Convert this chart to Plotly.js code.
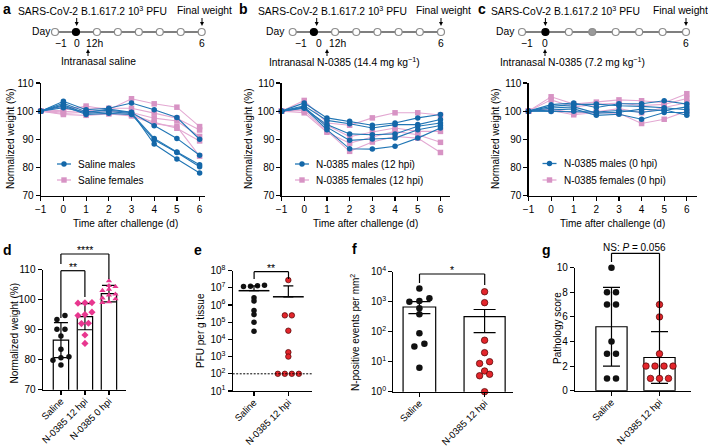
<!DOCTYPE html>
<html><head><meta charset="utf-8">
<script src="https://cdn.plot.ly/plotly-3.0.1.min.js"></script>
<style>html,body{margin:0;padding:0;background:#fff}#chart{width:708px;height:447px}</style>
</head><body><div id="chart"></div>
<script>
// ---------------- DATA ----------------
const days = [-1, 0, 1, 2, 3, 4, 5, 6];

const aMales = [
  [100, 103.5, 100.5, 101.0, 102.9, 100.5, 97.7, 90.0],
  [100, 102.8, 99.8, 100.3, 99.5, 94.8, 90.3, 84.3],
  [100, 102.2, 99.2, 99.8, 99.2, 90.3, 85.5, 80.9],
  [100, 101.8, 98.8, 99.2, 98.8, 89.8, 85.3, 80.2],
  [100, 101.2, 99.5, 100.7, 99.6, 88.3, 83.0, 78.0]
];
const aFemales = [
  [100, 100.3, 101.8, 100.5, 104.4, 102.6, 101.4, 94.5],
  [100, 101.5, 101.0, 101.0, 101.0, 99.3, 97.5, 93.3],
  [100, 99.8, 100.2, 100.0, 99.5, 97.5, 96.5, 91.0],
  [100, 99.2, 99.6, 99.3, 98.8, 96.0, 93.9, 89.4],
  [100, 98.8, 98.5, 99.0, 98.3, 95.5, 94.5, 84.0]
];
const bMales = [
  [100, 102.9, 97.6, 96.4, 95.0, 95.8, 97.6, 98.8],
  [100, 101.9, 96.7, 95.5, 94.0, 95.2, 95.2, 97.0],
  [100, 101.0, 95.2, 91.9, 91.6, 91.9, 94.6, 95.8],
  [100, 101.5, 94.3, 89.6, 90.1, 90.4, 93.4, 94.9],
  [100, 101.2, 93.4, 86.6, 86.5, 87.5, 90.4, 94.0]
];
const bFemales = [
  [100, 103.8, 95.8, 95.0, 97.6, 99.4, 99.4, 98.6],
  [100, 100.5, 95.0, 90.9, 92.6, 94.0, 92.8, 92.8],
  [100, 99.4, 92.5, 88.6, 90.8, 92.8, 91.6, 88.9],
  [100, 100.2, 93.0, 85.7, 89.0, 91.0, 90.4, 85.3]
];
const cMales = [
  [100, 102.3, 102.9, 101.3, 102.6, 102.6, 103.7, 102.5],
  [100, 101.7, 102.3, 102.5, 101.9, 101.7, 101.2, 100.5],
  [100, 101.1, 101.5, 99.3, 99.6, 100.7, 100.2, 101.5],
  [100, 100.5, 100.8, 98.5, 98.9, 97.1, 99.5, 99.5],
  [100, 99.9, 100.0, 99.7, 100.2, 99.6, 100.5, 98.5]
];
const cFemales = [
  [100, 105.1, 102.5, 103.2, 104.0, 103.7, 103.0, 106.2],
  [100, 104.0, 101.5, 102.4, 102.9, 102.0, 102.4, 104.5],
  [100, 100.8, 99.3, 99.8, 100.9, 99.4, 101.3, 103.0],
  [100, 100.2, 98.7, 99.5, 99.2, 95.6, 97.1, 100.0]
];

const dCats = ['Saline', 'N-0385 12 hpi', 'N-0385 0 hpi'];
const dMean = [86.5, 94.3, 102.0];
const dSD = [5.85, 4.35, 2.75];
const dSaline = [94.7, 93.4, 90.1, 90.1, 87.9, 83.5, 81.0, 80.6, 79.8, 78.2];
const d12hpi = [99.0, 98.9, 98.8, 95.8, 95.0, 94.7, 92.1, 92.0, 88.2, 85.4];
const d0hpi = [106.2, 104.6, 104.3, 103.4, 103.0, 101.8, 101.5, 100.5, 100.2, 99.2, 99.0];

const eCats = ['Saline', 'N-0385 12 hpi'];
const eSaline = [1.4e7, 1.3e7, 1.25e7, 1.2e7, 2.6e6, 1.7e6, 4.8e5, 2.8e5, 1.0e5, 3.0e4];
const eN0385 = [2.8e7, 2.5e5, 2.5e5, 3.2e4, 1.8e3, 1.0e3, 100, 100, 100, 100];
const eMean = [6.8e6, 3.0e6];
const eErrHi = [1.3e7, 1.3e7];
const eLOD = 100;
const eTicks = [1e1, 1e2, 1e3, 1e4, 1e5, 1e6, 1e7, 1e8];
const eTickText = ['10<sup>1</sup>', '10<sup>2</sup>', '10<sup>3</sup>', '10<sup>4</sup>', '10<sup>5</sup>', '10<sup>6</sup>', '10<sup>7</sup>', '10<sup>8</sup>'];

const fCats = ['Saline', 'N-0385 12 hpi'];
const fSaline = [2750, 1300, 1050, 1000, 600, 380, 89, 40, 32, 6.3];
const fN0385 = [2150, 930, 52, 20, 10, 8.7, 4.9, 3.8, 3.4, 1.0];
const fMean = [665, 316];
const fErrHi = [1000, 550];
const fErrLo = [400, 93];
const fTicks = [1, 10, 100, 1000, 10000];
const fTickText = ['10<sup>0</sup>', '10<sup>1</sup>', '10<sup>2</sup>', '10<sup>3</sup>', '10<sup>4</sup>'];

const gCats = ['Saline', 'N-0385 12 hpi'];
const gSaline = [10, 8, 8, 7, 7, 4, 3, 3, 1, 1];
const gN0385 = [7, 6, 3, 2, 2, 2, 2, 1, 1, 1];
const gMean = [5.2, 2.7];
const gErrHi = [8.4, 4.8];
const gErrLo = [2.0, 0.6];

const tlDays = [-1, 0, 1, 2, 3, 4, 5, 6];
const infectionDay = 0;
const cGrayDay = 2;

// ---------------- STYLE / HELPERS ----------------
const W = 708, H = 447;
const FONT = 'Liberation Sans, Arial, Helvetica, sans-serif';
const BLUE = '#2176b5', BLUE_M = '#1467a8', PINK = '#e3a8d2', PINK_M = '#d793c4';
const RED = '#e3262c', MAG = '#e8378f';
const PX = x => x / W, PY = y => 1 - y / H;

const base = {showline: true, linecolor: '#000', linewidth: 1.2, ticks: 'outside', ticklen: 4,
  tickwidth: 1.2, tickcolor: '#000', showgrid: false, zeroline: false, fixedrange: true,
  tickfont: {family: FONT, size: 10, color: '#000'}};
const catX = {tickangle: -45, ticklabelstandoff: -3, tickfont: {family: FONT, size: 9.5, color: '#000'}};
function xa(x0, x1, range, anchor, extra) {
  return Object.assign({}, base, {domain: [PX(x0), PX(x1)], range, anchor}, extra || {});
}
function ya(top, bottom, range, anchor, extra) {
  return Object.assign({}, base, {domain: [PY(bottom), PY(top)], range, anchor}, extra || {});
}

function lineGroup(rows, xaN, yaN, lc, mc, symbol) {
  const x = [], y = [];
  rows.forEach(r => { r.forEach((v, i) => { x.push(days[i]); y.push(v); }); x.push(null); y.push(null); });
  return {type: 'scatter', mode: 'lines+markers', x, y, xaxis: xaN, yaxis: yaN,
    line: {color: lc, width: 1.1}, marker: {color: mc, size: 5.5, symbol},
    connectgaps: false, cliponaxis: false, hoverinfo: 'skip'};
}

function swarm(vals, toPx, spacingPx, pxPerCat, thresh) {
  const order = vals.map((v, i) => i).sort((a, b) => toPx(vals[a]) - toPx(vals[b]));
  const off = new Array(vals.length).fill(0);
  let bin = [];
  const flush = () => { bin.forEach((k, j) => { off[k] = (j - (bin.length - 1) / 2) * spacingPx / pxPerCat; }); bin = []; };
  order.forEach(k => {
    if (bin.length && Math.abs(toPx(vals[k]) - toPx(vals[bin[0]])) > thresh) flush();
    bin.push(k);
  });
  flush();
  return off;
}
function pts(vals, idx, xaN, yaN, toPx, spacing, pxPerCat, thresh, marker) {
  const off = swarm(vals, toPx, spacing, pxPerCat, thresh);
  return {type: 'scatter', mode: 'markers', x: vals.map((v, i) => idx + off[i]), y: vals,
    xaxis: xaN, yaxis: yaN, marker, cliponaxis: false, hoverinfo: 'skip'};
}

// ---------------- TRACES ----------------
const traces = [];
traces.push(lineGroup(aFemales, 'x', 'y', PINK, PINK_M, 'square'));
traces.push(lineGroup(aMales, 'x', 'y', BLUE, BLUE_M, 'circle'));
traces.push(lineGroup(bFemales, 'x2', 'y2', PINK, PINK_M, 'square'));
traces.push(lineGroup(bMales, 'x2', 'y2', BLUE, BLUE_M, 'circle'));
traces.push(lineGroup(cFemales, 'x3', 'y3', PINK, PINK_M, 'square'));
traces.push(lineGroup(cMales, 'x3', 'y3', BLUE, BLUE_M, 'circle'));

// d
traces.push({type: 'bar', x: dCats.map((c, i) => i), y: dMean, width: 0.64, xaxis: 'x4', yaxis: 'y4',
  marker: {color: '#fff', line: {color: '#000', width: 1.2}},
  error_y: {type: 'data', array: dSD, visible: true, color: '#000', thickness: 1.2, width: 7}, hoverinfo: 'skip'});
const dPx = v => v * 3.0;
traces.push(pts(dSaline, 0, 'x4', 'y4', dPx, 8, 24, 4, {color: '#111', size: 5.5}));
traces.push(pts(d12hpi, 1, 'x4', 'y4', dPx, 7, 24, 4, {color: MAG, size: 5.5, symbol: 'diamond'}));
traces.push(pts(d0hpi, 2, 'x4', 'y4', dPx, 6.5, 24, 4, {color: MAG, size: 5.5, symbol: 'triangle-up'}));

// e
const ePx = v => Math.log10(v) * 17.2;
traces.push(pts(eSaline, 0, 'x5', 'y5', ePx, 7, 34.35, 3, {color: '#111', size: 5.5}));
traces.push(pts(eN0385, 1, 'x5', 'y5', ePx, 7, 34.35, 3, {color: RED, size: 5.5, line: {color: '#4a0000', width: 0.7}}));
traces.push({type: 'scatter', mode: 'markers', x: eCats.map((c, i) => i), y: eMean, xaxis: 'x5', yaxis: 'y5',
  marker: {symbol: 'line-ew', size: 22, line: {color: '#000', width: 1.5}},
  error_y: {type: 'data', symmetric: false, array: eErrHi.map((h, i) => h - eMean[i]), arrayminus: eMean.map(() => 0),
    color: '#000', thickness: 1.2, width: 5}, cliponaxis: false, hoverinfo: 'skip'});

// f
traces.push({type: 'bar', x: fCats.map((c, i) => i), y: fMean, width: [0.5, 0.63], xaxis: 'x6', yaxis: 'y6',
  marker: {color: '#fff', line: {color: '#000', width: 1.2}},
  error_y: {type: 'data', symmetric: false, array: fErrHi.map((h, i) => h - fMean[i]),
    arrayminus: fErrLo.map((l, i) => fMean[i] - l), color: '#000', thickness: 1.2, width: 11}, hoverinfo: 'skip'});
const fPx = v => Math.log10(v) * 30;
traces.push(pts(fSaline, 0, 'x6', 'y6', fPx, 10, 65.2, 4, {color: '#111', size: 6.5}));
traces.push(pts(fN0385, 1, 'x6', 'y6', fPx, 10, 65.2, 4, {color: RED, size: 6.5, line: {color: '#4a0000', width: 0.7}}));

// g
traces.push({type: 'bar', x: gCats.map((c, i) => i), y: gMean, width: 0.65, xaxis: 'x7', yaxis: 'y7',
  marker: {color: '#fff', line: {color: '#000', width: 1.2}},
  error_y: {type: 'data', symmetric: false, array: gErrHi.map((h, i) => h - gMean[i]),
    arrayminus: gErrLo.map((l, i) => gMean[i] - l), color: '#000', thickness: 1.2, width: 8.5}, hoverinfo: 'skip'});
const gPx = v => v * 12.3;
traces.push(pts(gSaline, 0, 'x7', 'y7', gPx, 9, 48, 3, {color: '#111', size: 6.5}));
traces.push(pts(gN0385, 1, 'x7', 'y7', gPx, 9, 48, 3, {color: RED, size: 6.5, line: {color: '#4a0000', width: 0.7}}));

// timelines
function timeline(xaN, yaN, grayDay) {
  const fills = tlDays.map(d => d === infectionDay ? '#000' : (d === grayDay ? '#9a9a9a' : '#fff'));
  const outl = tlDays.map(d => d === infectionDay ? '#000' : '#8c8c8c');
  return [
    {type: 'scatter', mode: 'lines', x: tlDays, y: tlDays.map(() => 0), xaxis: xaN, yaxis: yaN,
      line: {color: '#000', width: 1.2}, cliponaxis: false, hoverinfo: 'skip'},
    {type: 'scatter', mode: 'markers', x: tlDays, y: tlDays.map(() => 0), xaxis: xaN, yaxis: yaN,
      marker: {size: 7, color: fills, line: {color: outl, width: 1.2}}, cliponaxis: false, hoverinfo: 'skip'}
  ];
}
traces.push(...timeline('x8', 'y8', null));
traces.push(...timeline('x9', 'y9', null));
traces.push(...timeline('x10', 'y10', cGrayDay));

// ---------------- ANNOTATIONS / SHAPES ----------------
const ann = [];
const shapes = [];
function T(text, x, y, o) {
  ann.push(Object.assign({text, x: PX(x), y: PY(y), xref: 'paper', yref: 'paper', showarrow: false,
    xanchor: 'center', yanchor: 'middle', font: {family: FONT, size: 10, color: '#000'}}, o || {}));
}
function L(x0, y0, x1, y1, color, w, extra) {
  shapes.push(Object.assign({type: 'line', xref: 'paper', yref: 'paper', x0: PX(x0), y0: PY(y0), x1: PX(x1), y1: PY(y1),
    line: {color: color || '#000', width: w || 1.2}}, extra || {}));
}
// small arrow: head at (x, yHead); dy>0 means arrow points down
function ARR(x, yHead, dy) {
  const s = dy > 0 ? 1 : -1;
  L(x, yHead - dy, x, yHead - s * 2.5, '#000', 1);
  shapes.push({type: 'path', xref: 'paper', yref: 'paper',
    path: `M ${PX(x)},${PY(yHead)} L ${PX(x - 2)},${PY(yHead - s * 4)} L ${PX(x + 2)},${PY(yHead - s * 4)} Z`,
    fillcolor: '#000', line: {width: 0}});
}
const big = {font: {family: FONT, size: 14, color: '#000'}, xanchor: 'left'};
T('<b>a</b>', 1, 9, big); T('<b>b</b>', 237, 9, big); T('<b>c</b>', 476, 9, big);
T('<b>d</b>', 1, 250, big); T('<b>e</b>', 192, 250, big); T('<b>f</b>', 350, 249, big); T('<b>g</b>', 540, 250, big);

// timeline texts
const virus = 'SARS-CoV-2 B.1.617.2 10<sup>3</sup> PFU';
const fT = {font: {family: FONT, size: 10.3, color: '#000'}};
const fTL = {font: {family: FONT, size: 10.3, color: '#000'}, xanchor: 'left'};
[[16, 175, 53, 61, 77, 94, 202, 88, 99, 'Intranasal saline', 76.7, 202],
 [256, 414, 287, 301, 318.5, 337, 441, 327, 344, 'Intranasal N-0385 (14.4 mg kg<sup>−1</sup>)', 316.7, 441],
 [489, 651, 517, 527, 545, null, 686, 545, 572, 'Intranasal N-0385 (7.2 mg kg<sup>−1</sup>)', 545.4, 686]
].forEach(p => {
  T(virus, p[0], 10, fTL);
  T('Final weight', p[1], 10, fTL);
  T('Day', p[2], 31, Object.assign({}, fT, {xanchor: 'right'}));
  T('−1', p[3], 43, fT); T('0', p[4], 43, fT);
  if (p[5] !== null) T('12h', p[5], 43, fT);
  T('6', p[6], 43, fT);
  ARR(p[7], 49, -7);
  T(p[9], p[8], 62, fT);
  ARR(p[10], 26, 8);
  ARR(p[11], 26, 8);
});

// axis titles
const tt = {textangle: -90};
T('Normalized weight (%)', 10, 139, tt); T('Normalized weight (%)', 248, 139, tt); T('Normalized weight (%)', 495, 139, tt);
T('Time after challenge (d)', 125, 223); T('Time after challenge (d)', 366, 223); T('Time after challenge (d)', 612, 223);
T('Normalized weight (%)', 13.5, 333, tt);
T('PFU per g tissue', 200, 331, tt);
T('N-positive events per mm<sup>2</sup>', 355, 332, tt);
T('Pathology score', 557, 328, tt);

// legends
function legendItem(x0, y, label, isMale) {
  L(x0, y, x0 + 14, y, isMale ? BLUE : PINK, 1.3);
  const cx = x0 + 7, r = 2.7;
  shapes.push({type: isMale ? 'circle' : 'rect', xref: 'paper', yref: 'paper',
    x0: PX(cx - r), x1: PX(cx + r), y0: PY(y + r), y1: PY(y - r),
    fillcolor: isMale ? BLUE_M : PINK_M, line: {width: 0}});
  T(label, x0 + 19, y, {xanchor: 'left'});
}
legendItem(57, 164, 'Saline males', true); legendItem(57, 180, 'Saline females', false);
legendItem(295, 164, 'N-0385 males (12 hpi)', true); legendItem(295, 180, 'N-0385 females (12 hpi)', false);
legendItem(542.5, 163.5, 'N-0385 males (0 hpi)', true); legendItem(542.5, 180, 'N-0385 females (0 hpi)', false);

// significance brackets
function bracket(x1, x2, yTop, yL, yR) { L(x1, yTop, x2, yTop); L(x1, yTop, x1, yL); L(x2, yTop, x2, yR); }
const sig = {font: {family: FONT, size: 10.5, color: '#000'}};
bracket(60.9, 84.9, 270.7, 318, 297); T('**', 72.9, 266.5, sig);
bracket(60.9, 108.9, 254, 264, 279); T('****', 84.9, 250, sig);
bracket(254.1, 288.5, 271.7, 279, 279); T('**', 271.3, 267.5, sig);
bracket(419.5, 484.7, 274, 283, 285); T('*', 452, 270, sig);
bracket(611.5, 659.5, 253.3, 262, 331); T('NS: <i>P</i> = 0.056', 634.5, 247.5);

// LOD dashed line in e
shapes.push({type: 'line', xref: 'x5 domain', yref: 'y5', x0: 0, x1: 1, y0: eLOD, y1: eLOD,
  line: {color: '#000', width: 1, dash: '2px,1.5px'}});

// ---------------- LAYOUT ----------------
const yW = {tickvals: [70, 80, 90, 100, 110]};
const hid = {visible: false, fixedrange: true};
const layout = {
  width: W, height: H, margin: {l: 0, r: 0, t: 0, b: 0}, showlegend: false,
  paper_bgcolor: '#fff', plot_bgcolor: 'rgba(0,0,0,0)', font: {family: FONT, size: 10, color: '#000'},
  bargap: 0,
  xaxis: xa(40.7, 204.6, [-1, 6.22], 'y', {tickvals: days}),
  yaxis: ya(83, 195.5, [70, 110], 'x', yW),
  xaxis2: xa(281.5, 450, [-1, 6.42], 'y2', {tickvals: days}),
  yaxis2: ya(83, 195.5, [70, 110], 'x2', yW),
  xaxis3: xa(528.5, 697, [-1, 6.45], 'y3', {tickvals: days}),
  yaxis3: ya(83, 195.5, [70, 110], 'x3', yW),
  xaxis4: xa(42.7, 126, [-0.76, 2.71], 'y4', Object.assign({tickvals: [0, 1, 2], ticktext: dCats}, catX)),
  yaxis4: ya(269.5, 389.7, [70, 110], 'x4', yW),
  xaxis5: xa(232.7, 311.7, [-0.62, 1.68], 'y5', Object.assign({tickvals: [0, 1], ticktext: eCats}, catX)),
  yaxis5: ya(270.6, 391, [1, 8], 'x5', {type: 'log', tickvals: eTicks, ticktext: eTickText}),
  xaxis6: xa(393.3, 513.3, [-0.40, 1.44], 'y6', Object.assign({tickvals: [0, 1], ticktext: fCats}, catX)),
  yaxis6: ya(271.7, 391.7, [0, 4], 'x6', {type: 'log', tickvals: fTicks, ticktext: fTickText}),
  xaxis7: xa(575, 690.7, [-0.76, 1.65], 'y7', Object.assign({tickvals: [0, 1], ticktext: gCats}, catX)),
  yaxis7: ya(267.7, 390.7, [0, 10], 'x7', {tickvals: [0, 2, 4, 6, 8, 10]}),
  xaxis8: Object.assign({}, hid, {domain: [PX(55), PX(201.7)], range: [-1, 6], anchor: 'y8'}),
  yaxis8: Object.assign({}, hid, {domain: [PY(36), PY(28)], range: [-1, 1], anchor: 'x8'}),
  xaxis9: Object.assign({}, hid, {domain: [PX(292.7), PX(441)], range: [-1, 6], anchor: 'y9'}),
  yaxis9: Object.assign({}, hid, {domain: [PY(36), PY(28)], range: [-1, 1], anchor: 'x9'}),
  xaxis10: Object.assign({}, hid, {domain: [PX(522), PX(686)], range: [-1, 6], anchor: 'y10'}),
  yaxis10: Object.assign({}, hid, {domain: [PY(36), PY(28)], range: [-1, 1], anchor: 'x10'}),
  annotations: ann, shapes: shapes
};
Plotly.newPlot('chart', traces, layout, {staticPlot: true, displayModeBar: false});
</script></body></html>
